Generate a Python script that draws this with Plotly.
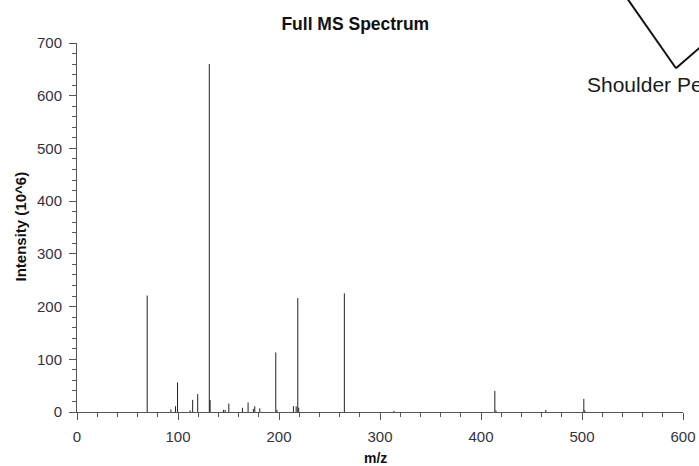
import plotly.graph_objects as go

# Peak list
mz = [69.5, 93.0, 97.5, 99.5, 112.0, 114.5, 119.5, 131.0, 131.8, 145.0, 146.6,
      150.3, 163.8, 169.4, 174.6, 176.0, 181.0, 196.8, 198.0, 214.3, 217.0,
      218.6, 219.5, 264.7, 313.8, 413.7, 414.8, 464.2, 501.8, 502.8]
intensity = [221, 5, 11, 56, 3, 23, 34, 660, 23, 4, 4,
             16, 8, 18, 6, 11, 7, 113, 4, 11, 11,
             216, 8, 225, 2, 40, 3, 4, 25, 3]

x_ticks = [0, 100, 200, 300, 400, 500, 600]
y_ticks = [0, 100, 200, 300, 400, 500, 600, 700]

title_text = "Full MS Spectrum"
x_title = "m/z"
y_title = "Intensity (10^6)"
callout_text = "Shoulder Peak"

# stick spectrum built from the arrays
xs, ys = [], []
for m, v in zip(mz, intensity):
    xs += [m, m, None]
    ys += [0, v, None]

W, H = 699, 466
L, R, T, B = 77, 16, 43, 54
pw, ph = W - L - R, H - T - B

def px(xp):
    return (xp - L) / pw

def py(yp):
    return (H - B - yp) / ph

fig = go.Figure()
fig.add_trace(go.Scatter(x=xs, y=ys, mode="lines",
                         line=dict(color="#222222", width=1),
                         hoverinfo="skip", showlegend=False))

font_main = "Liberation Sans, Arial, sans-serif"
fig.update_layout(
    width=W, height=H,
    margin=dict(l=L, r=R, t=T, b=B, pad=0, autoexpand=False),
    paper_bgcolor="white", plot_bgcolor="white",
    font=dict(family=font_main, color="#333333", size=15),
    title=dict(text="<b>" + title_text + "</b>", x=355.3 / W, xref="container",
               xanchor="center", y=1 - 24 / H, yref="container", yanchor="middle",
               font=dict(family=font_main, size=17.5, color="#111111")),
    xaxis=dict(range=[0, 600], tickvals=x_ticks, ticktext=[str(t) for t in x_ticks],
               automargin=False,
               showgrid=False, zeroline=False, showline=True, linecolor="#555555",
               linewidth=1, ticks="outside", ticklen=7, tickwidth=1, tickcolor="#555555",
               minor=dict(dtick=20, ticks="outside", ticklen=3.5, tickcolor="#555555", showgrid=False),
               tickfont=dict(size=15, color="#333340"), ticklabelstandoff=4),
    yaxis=dict(range=[0, 700], tickvals=y_ticks, ticktext=[str(t) for t in y_ticks],
               automargin=False,
               showgrid=False, zeroline=False, showline=True, linecolor="#555555",
               linewidth=1, ticks="outside", ticklen=7, tickwidth=1, tickcolor="#555555",
               minor=dict(dtick=20, ticks="outside", ticklen=4, tickcolor="#555555", showgrid=False),
               tickfont=dict(size=15, color="#333340"), ticklabelstandoff=4),
    annotations=[
        dict(text="<b>" + x_title + "</b>", xref="paper", yref="paper",
             x=px(375), y=py(457.5), xanchor="center", yanchor="middle", showarrow=False,
             font=dict(family=font_main, size=14, color="#111111")),
        dict(text="<b>" + y_title + "</b>", xref="paper", yref="paper",
             x=px(19.5), y=py(227), xanchor="center", yanchor="middle", showarrow=False,
             textangle=-90, font=dict(family=font_main, size=15, color="#111111")),
        dict(text=callout_text, xref="paper", yref="paper",
             x=px(585), y=py(85), xanchor="left", yanchor="middle", showarrow=False,
             font=dict(family="Liberation Sans Narrow, Liberation Sans", size=21,
                       color="#1a1a1a")),
    ],
    shapes=[
        dict(type="line", xref="paper", yref="paper",
             x0=px(624.8), y0=py(-5), x1=px(676), y1=py(68.3),
             line=dict(color="#111111", width=2)),
        dict(type="line", xref="paper", yref="paper",
             x0=px(676), y0=py(68.3), x1=px(710), y1=py(38.7),
             line=dict(color="#111111", width=2)),
    ],
)

fig.write_html("out.html", config={"displayModeBar": False},
               post_script="document.body.style.margin='0px';document.body.style.overflow='hidden';")
